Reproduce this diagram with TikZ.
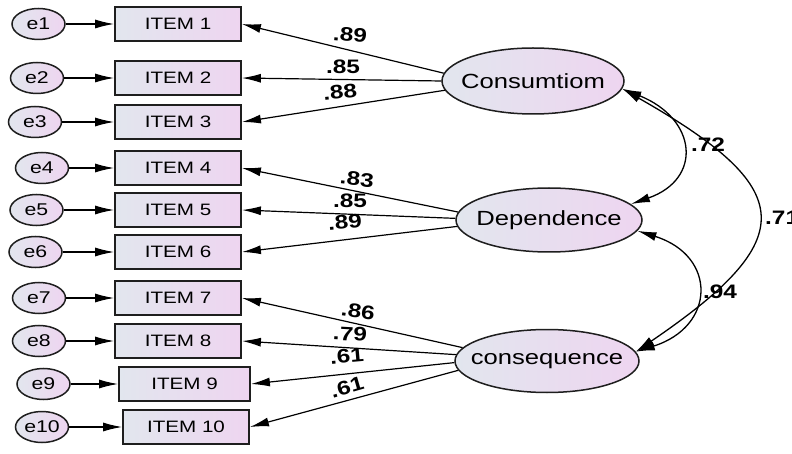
\documentclass[tikz,border=0pt]{standalone}
\usepackage{fontspec}
\newfontfamily\amos[FakeStretch=1.25]{Liberation Sans}
\usetikzlibrary{arrows.meta,shapes.geometric}
\definecolor{gl}{RGB}{226,230,238}
\definecolor{gr}{RGB}{238,213,240}
\definecolor{edgec}{RGB}{30,30,30}
\begin{document}
\begin{tikzpicture}[x=1pt,y=-1pt,
 item/.style={draw=edgec,line width=1.8pt,left color=gl,right color=gr,minimum width=126pt,minimum height=34pt,inner sep=0pt,font=\amos\fontsize{16.5}{18}\selectfont},
 err/.style={ellipse,draw=edgec,line width=1.5pt,left color=gl,right color=gr,minimum width=53pt,minimum height=31pt,inner sep=0pt},
 errlab/.style={font=\amos\fontsize{17}{18}\selectfont,inner sep=0pt},
 lat/.style={ellipse,draw=edgec,line width=1.5pt,left color=gl,right color=gr,inner sep=0pt},
 latlab/.style={font=\amos\fontsize{20.5}{22}\selectfont,inner sep=0pt},
 arr/.style={line width=1.2pt,-{Latex[length=19pt,width=9pt]}},
 cov/.style={line width=1.3pt,{Latex[length=19pt,width=9pt]}-{Latex[length=19pt,width=9pt]}},
 coef/.style={font=\amos\bfseries\fontsize{19.5}{21}\selectfont,inner sep=0pt},
]
\useasboundingbox (0,0) rectangle (792,454);
\fill[white] (0,0) rectangle (792,454);

% error terms
\foreach \n/\x/\y in {1/38.5/24,2/37/78,3/35/122,4/42/168,5/36.5/210,6/35.5/252,7/39/298,8/39/341,9/43.5/384,10/42/427}
  \node[err,label={[errlab]center:e\n}] (e\n) at (\x,\y) {};

% items
\foreach \n/\y in {1/24,2/78,3/122,4/168,5/210,6/252,7/298,8/341}
  \node[item] (i\n) at (178,\y) {ITEM \n};
\node[item,minimum width=131pt] (i9) at (184.5,384) {ITEM 9};
\node[item] (i10) at (186,427) {ITEM 10};

\foreach \n in {1,...,10}
  \draw[arr] (e\n) -- (i\n);

% latent variables
\node[lat,minimum width=182pt,minimum height=66pt,label={[latlab]center:Consumtiom}] (c1) at (533,81) {};
\node[lat,minimum width=186pt,minimum height=64pt,label={[latlab]center:Dependence}] (c2) at (549,220) {};
\node[lat,minimum width=184pt,minimum height=63pt,label={[latlab]center:consequence}] (c3) at (547,361) {};

% loadings
\draw[arr] (c1.175) -- (i1.east);
\draw[arr] (c1.180) -- (i2.east);
\draw[arr] (c1.186) -- (i3.east);
\draw[arr] (c2.175) -- (i4.east);
\draw[arr] (c2.179) -- (i5.east);
\draw[arr] (c2.184) -- (i6.east);
\draw[arr] (c3.171) -- (i7.east);
\draw[arr] (c3.176) -- (i8.east);
\draw[arr] (c3.181) -- (i9.east);
\draw[arr] (c3.186) -- (i10.east);

\node[coef,rotate=-5] (l1) at (350,35) {.89};
\node[coef] (l2) at (343,67) {.85};
\node[coef,rotate=6] (l3) at (340,92) {.88};
\node[coef,rotate=-6] (l4) at (357,179) {.83};
\node[coef] (l5) at (350,201) {.85};
\node[coef,rotate=5] (l6) at (345,222) {.89};
\node[coef,rotate=-8] (l7) at (358,311) {.86};
\node[coef,rotate=-3] (l8) at (350,334) {.79};
\node[coef,rotate=5] (l9) at (347,356) {.61};
\node[coef,rotate=16] (l10) at (347,387) {.61};

% covariances
\draw[cov] (c1.-5) .. controls +(75,30) and +(72,-25) .. (c2.11);
\draw[cov] (c2.-7) .. controls +(80,25) and +(80,-25) .. (c3.6);
\draw[cov] (c1.-5) .. controls +(176,100) and +(166,-113) .. (c3.6);

\node[coef] (l11) at (708,145) {.72};
\node[coef] (l12) at (720,292) {.94};
\node[coef,anchor=west] (l13) at (765,218) {.71};
\end{tikzpicture}
\end{document}
